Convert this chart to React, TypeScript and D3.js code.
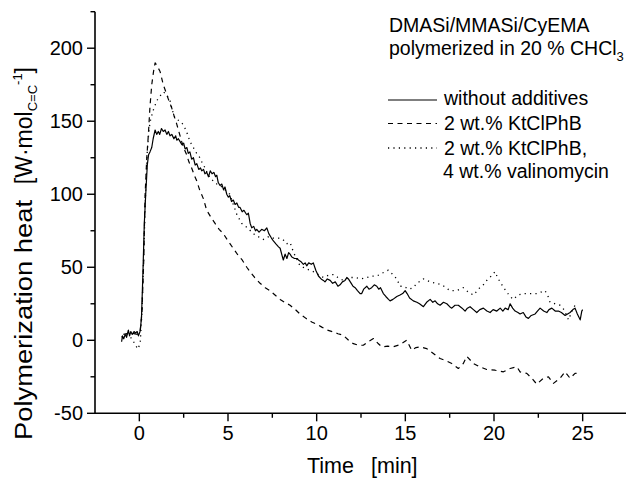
import React from 'react';
import * as d3 from 'd3';

// ---------- data ----------
const xTicks = [0, 5, 10, 15, 20, 25];
const yTicks = [-50, 0, 50, 100, 150, 200];
const xMinorTicks = [2.5, 7.5, 12.5, 17.5, 22.5];
const yMinorTicks = [-25, 25, 75, 125, 175, 225];

const titleLine1 = 'DMASi/MMASi/CyEMA';
const titleLine2 = 'polymerized in 20 % CHCl';
const titleSub = '3';
const legendLabels = ['without additives', '2 wt.% KtClPhB', '2 wt.% KtClPhB,', '4 wt.% valinomycin'];

// without additives (solid)
const seriesSolid: [number, number][] = [
  [-1.0, -1], [-0.95, 3], [-0.88, 1], [-0.8, 4], [-0.72, 2], [-0.62, 7], [-0.55, 3], [-0.48, 6], [-0.4, 4],
  [-0.3, 6], [-0.22, 5], [-0.12, 6], [-0.05, 3], [0.04, 6], [0.12, 15], [0.2, 45], [0.28, 80], [0.36, 100],
  [0.45, 120], [0.52, 127], [0.6, 129], [0.7, 132], [0.78, 138], [0.89, 144], [0.98, 141], [1.07, 143],
  [1.15, 141], [1.25, 145], [1.35, 143], [1.45, 144], [1.55, 141], [1.64, 143], [1.73, 140], [1.83, 141],
  [1.95, 138], [2.05, 140], [2.11, 137], [2.2, 138], [2.3, 136], [2.4, 134], [2.5, 135], [2.58, 131],
  [2.68, 132], [2.76, 128], [2.85, 129], [2.95, 124], [3.05, 125], [3.15, 120], [3.24, 121], [3.35, 117],
  [3.45, 118], [3.52, 116], [3.62, 117], [3.7, 114], [3.8, 115], [3.9, 112], [4.0, 116], [4.1, 114],
  [4.2, 115], [4.3, 112], [4.37, 113], [4.45, 108], [4.55, 106], [4.65, 107], [4.75, 103], [4.83, 105],
  [4.93, 100], [5.02, 98], [5.1, 99], [5.2, 95], [5.3, 96], [5.4, 93], [5.5, 94], [5.6, 91], [5.68, 91],
  [5.8, 88], [5.9, 89], [6.0, 87], [6.06, 86], [6.15, 87], [6.25, 80], [6.34, 77], [6.45, 78], [6.55, 75],
  [6.62, 76], [6.75, 74], [6.9, 76], [7.05, 75], [7.19, 77], [7.3, 73], [7.45, 70], [7.56, 68], [7.7, 66],
  [7.85, 64], [7.94, 63], [8.05, 58], [8.12, 55], [8.22, 59], [8.32, 56], [8.42, 60], [8.5, 59], [8.6, 57],
  [8.75, 56], [8.9, 56], [8.97, 55], [9.1, 54], [9.25, 52], [9.35, 53], [9.44, 51], [9.55, 53], [9.7, 52],
  [9.81, 53], [9.95, 48], [10.1, 44], [10.25, 42], [10.38, 41], [10.47, 40], [10.6, 42], [10.76, 41],
  [10.9, 39], [11.05, 40], [11.2, 37], [11.32, 38], [11.45, 40], [11.6, 41], [11.7, 43], [11.79, 42],
  [11.95, 39], [12.05, 37], [12.17, 36], [12.3, 34], [12.45, 32], [12.54, 32], [12.65, 35], [12.83, 37],
  [12.95, 35], [13.1, 36], [13.25, 38], [13.39, 37], [13.5, 35], [13.6, 36], [13.76, 32], [13.9, 30],
  [14.05, 28], [14.14, 27], [14.3, 28], [14.52, 30], [14.7, 31], [14.85, 32], [14.99, 34], [15.1, 32],
  [15.24, 29], [15.45, 27], [15.65, 26], [15.8, 25], [16.02, 23], [16.2, 26], [16.4, 28], [16.55, 26],
  [16.68, 27], [16.82, 25], [16.96, 24], [17.15, 26], [17.34, 25], [17.5, 23], [17.62, 22], [17.8, 24],
  [17.99, 24], [18.2, 22], [18.37, 20], [18.5, 22], [18.65, 23], [18.84, 21], [19.03, 19], [19.2, 21],
  [19.4, 22], [19.6, 20], [19.78, 19], [19.95, 21], [20.16, 20], [20.35, 22], [20.5, 20], [20.63, 22],
  [20.8, 21], [20.91, 25], [21.05, 22], [21.19, 20], [21.35, 19], [21.47, 18], [21.65, 19], [21.8, 16],
  [21.94, 15], [22.1, 17], [22.32, 18], [22.45, 20], [22.6, 22], [22.8, 20], [22.98, 19], [23.1, 21],
  [23.26, 22], [23.45, 20], [23.63, 20], [23.8, 19], [24.01, 17], [24.15, 18], [24.29, 19], [24.45, 21],
  [24.57, 22], [24.7, 18], [24.86, 14], [24.95, 20], [25.0, 21],
];

// 2 wt.% KtClPhB (dashed)
const seriesDashed: [number, number][] = [
  [-0.9, 4], [-0.5, 5], [-0.1, 4], [0.05, 6], [0.15, 20], [0.25, 55], [0.32, 98], [0.42, 125], [0.51, 141],
  [0.6, 160], [0.7, 175], [0.8, 184], [0.89, 190], [1.0, 188], [1.17, 184], [1.35, 175], [1.5, 170],
  [1.64, 165], [1.83, 159], [2.0, 152], [2.11, 148], [2.25, 142], [2.39, 136], [2.53, 131], [2.67, 127],
  [2.8, 122], [2.95, 118], [3.1, 113], [3.24, 109], [3.4, 103], [3.61, 97], [3.8, 89], [4.05, 84],
  [4.27, 80], [4.5, 76], [4.74, 73], [5.0, 68], [5.12, 66], [5.35, 62], [5.58, 58], [5.8, 55], [6.06, 50],
  [6.24, 47], [6.5, 43], [6.81, 39], [7.1, 36], [7.37, 34], [7.65, 31], [7.94, 28], [8.2, 26], [8.5, 24],
  [8.8, 21], [9.06, 18], [9.4, 15], [9.72, 12.5], [10.0, 11], [10.29, 9], [10.6, 7], [10.94, 5.7],
  [11.2, 4.5], [11.5, 3.4], [11.8, 0], [12.07, -2.3], [12.35, -3.4], [12.63, -3.4], [12.9, -1], [13.2, 1.2],
  [13.45, -2], [13.67, -4.5], [14.0, -4], [14.3, -4.5], [14.7, -3], [15.08, 0], [15.36, -6.8], [15.6, -5],
  [15.83, -4.5], [16.2, -5.7], [16.58, -9], [16.96, -12.5], [17.3, -14], [17.62, -15.9], [17.99, -19.3],
  [18.27, -15.9], [18.47, -11], [18.84, -15.9], [19.2, -18.2], [19.59, -20], [20.06, -20.5], [20.53, -21.6],
  [20.91, -19.3], [21.29, -18.2], [21.47, -21.6], [21.85, -22.7], [22.13, -26], [22.41, -30], [22.79, -26],
  [23.07, -25], [23.35, -29.5], [23.72, -26], [24.01, -21.6], [24.29, -26], [24.57, -22.7], [24.86, -22.3],
];

// 2 wt.% KtClPhB, 4 wt.% valinomycin (dotted)
const seriesDotted: [number, number][] = [
  [-1.0, 2], [-0.8, 4], [-0.6, 3], [-0.4, 1], [-0.24, -3], [-0.08, -6], [0.05, -2], [0.15, 20], [0.25, 60],
  [0.35, 100], [0.45, 130], [0.55, 145], [0.65, 152], [0.8, 158], [0.98, 164], [1.15, 167], [1.35, 170],
  [1.5, 169], [1.73, 164], [1.85, 158], [2.01, 152], [2.15, 151], [2.3, 150], [2.45, 148], [2.58, 145],
  [2.72, 141], [2.86, 136], [3.0, 133], [3.14, 130], [3.28, 127], [3.42, 125], [3.56, 121], [3.71, 118],
  [3.85, 114], [3.99, 111], [4.18, 109], [4.37, 107], [4.55, 106], [4.74, 104], [4.92, 102], [5.1, 100],
  [5.3, 93], [5.5, 86], [5.78, 80], [6.1, 77], [6.43, 73], [6.7, 71], [6.99, 69], [7.3, 71], [7.56, 70],
  [7.85, 70], [8.1, 69], [8.3, 66], [8.5, 67], [8.7, 60], [9.06, 51], [9.4, 49], [9.81, 47], [10.1, 45],
  [10.38, 43], [10.76, 45], [10.94, 45], [11.2, 43], [11.5, 41], [11.8, 43], [12.17, 43], [12.5, 42],
  [12.83, 43], [13.1, 44], [13.39, 44], [13.7, 46], [14.04, 48], [14.3, 45], [14.52, 42], [14.7, 37],
  [14.9, 37], [15.2, 35], [15.45, 36], [15.65, 39], [16.02, 42], [16.4, 40], [16.7, 39], [17.06, 38],
  [17.3, 36], [17.52, 34], [17.9, 34], [18.27, 36], [18.55, 33], [18.84, 31], [19.2, 36], [19.4, 38],
  [19.59, 41], [19.85, 44], [20.06, 47], [20.2, 43], [20.34, 40], [20.55, 36], [20.72, 33], [20.91, 30],
  [21.09, 28], [21.35, 31], [21.66, 32], [22.0, 32], [22.41, 32], [22.65, 33], [22.88, 34], [23.05, 30],
  [23.16, 26], [23.45, 25], [23.72, 24], [23.95, 21], [24.2, 14], [24.4, 20], [24.57, 24],
];

// ---------- layout ----------
const W = 626;
const H = 479;
const FONT = '"Liberation Sans", Arial, sans-serif';

const x = d3.scaleLinear().domain([-2.5, 27.5]).range([95, 627]);
const y = d3.scaleLinear().domain([-50, 225]).range([413.3, 11.7]);

const line = d3
  .line<[number, number]>()
  .x((d) => x(d[0]))
  .y((d) => y(d[1]));

const styles = [
  { dash: undefined as string | undefined, width: 1.2 },
  { dash: '5,4.5', width: 1.2 },
  { dash: '1.2,4.2', width: 1.3 },
];

export default function App() {
  const series = [seriesSolid, seriesDashed, seriesDotted];
  const x0 = x.range()[0];
  const yBase = y.range()[0];
  return (
    <svg
      width={W}
      height={H}
      viewBox={`0 0 ${W} ${H}`}
      style={{ position: 'absolute', left: 0, top: 0, background: '#fff' }}
      fontFamily={FONT}
    >
      <rect x={0} y={0} width={W} height={H} fill="#fff" />
      {/* curves */}
      {series.map((s, i) => (
        <path
          key={i}
          d={line(s) || ''}
          fill="none"
          stroke="#000"
          strokeWidth={styles[i].width}
          strokeDasharray={styles[i].dash}
          strokeLinejoin="round"
        />
      ))}

      {/* axes */}
      <line x1={x0} x2={x0} y1={y(225)} y2={yBase} stroke="#000" strokeWidth={1.6} />
      <line x1={x0} x2={W} y1={yBase} y2={yBase} stroke="#000" strokeWidth={1.6} />
      {yTicks.map((t) => (
        <g key={'yt' + t}>
          <line x1={x0 - 8} x2={x0} y1={y(t)} y2={y(t)} stroke="#000" strokeWidth={1.4} />
          <text x={83} y={y(t) + 7} textAnchor="end" fontSize={20}>
            {t}
          </text>
        </g>
      ))}
      {yMinorTicks.map((t) => (
        <line key={'ym' + t} x1={x0 - 4.5} x2={x0} y1={y(t)} y2={y(t)} stroke="#000" strokeWidth={1.4} />
      ))}
      {xTicks.map((t) => (
        <g key={'xt' + t}>
          <line x1={x(t)} x2={x(t)} y1={yBase} y2={yBase + 8} stroke="#000" strokeWidth={1.4} />
          <text x={x(t)} y={440} textAnchor="middle" fontSize={20}>
            {t}
          </text>
        </g>
      ))}
      {xMinorTicks.map((t) => (
        <line key={'xm' + t} x1={x(t)} x2={x(t)} y1={yBase} y2={yBase + 4.5} stroke="#000" strokeWidth={1.4} />
      ))}

      {/* axis titles */}
      <text x={307} y={473} fontSize={21.5}>Time</text>
      <text x={371} y={473} fontSize={21.5}>[min]</text>
      <text
        transform="translate(32,440) rotate(-90)"
        fontSize={23}
        textLength={240}
        lengthAdjust="spacingAndGlyphs"
      >
        Polymerization heat
      </text>
      <text transform="translate(32,67) rotate(-90)" fontSize={23} textAnchor="end">
        {'[W\u00B7mol'}
        <tspan fontSize={13} dy={5}>C=C</tspan>
        <tspan fontSize={13} dy={-15}>-1</tspan>
        <tspan dy={10}>]</tspan>
      </text>

      {/* title */}
      <text x={389} y={32} fontSize={19.5}>{titleLine1}</text>
      <text x={389} y={55} fontSize={19.5}>
        {titleLine2}
        <tspan fontSize={13} dy={6}>{titleSub}</tspan>
      </text>

      {/* legend */}
      {[0, 1, 2].map((i) => {
        const ly = [100, 123.5, 148][i];
        return (
          <line
            key={'lg' + i}
            x1={388}
            x2={437}
            y1={ly}
            y2={ly}
            stroke="#000"
            strokeWidth={styles[i].width}
            strokeDasharray={styles[i].dash}
          />
        );
      })}
      {legendLabels.map((l, i) => (
        <text key={'ll' + i} x={i === 3 ? 443 : 444} y={[105, 130, 155, 178][i]} fontSize={19.5}>
          {l}
        </text>
      ))}
    </svg>
  );
}
